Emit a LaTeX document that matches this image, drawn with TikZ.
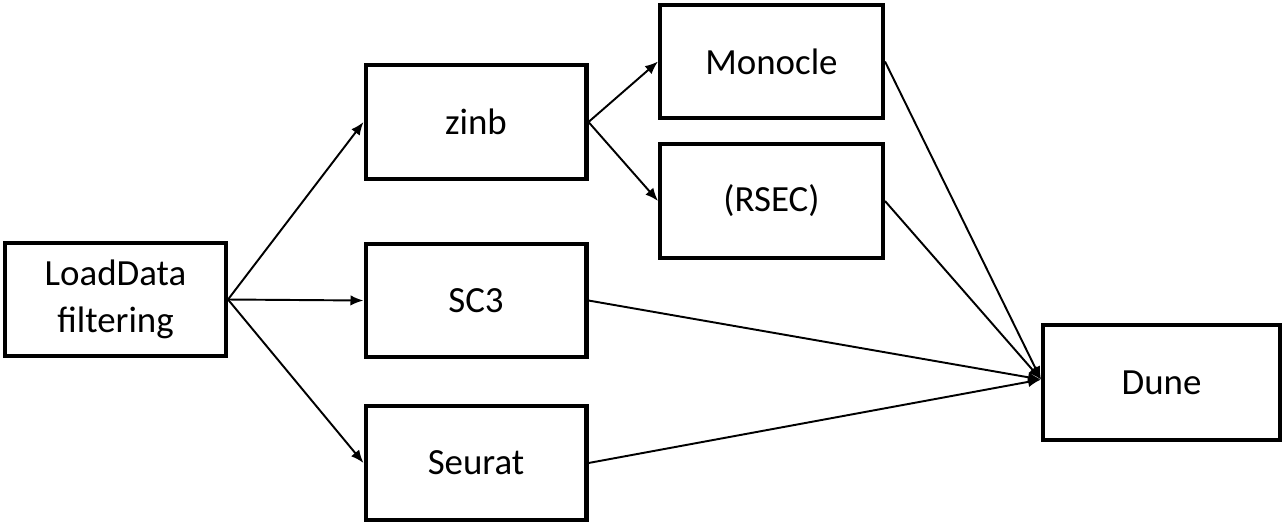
\documentclass[tikz,border=0pt]{standalone}
\usepackage{fontspec}
\setmainfont{Carlito}
\usepackage{tikz}
\usetikzlibrary{arrows.meta,positioning}

\begin{document}
\begin{tikzpicture}[x=0.02cm, y=-0.02cm,
    every node/.style={font=\fontsize{21}{27}\selectfont,align=center},
    box/.style={draw,line width=2.3pt,minimum width=4.42cm,minimum height=2.27cm,inner sep=0pt},
    flow/.style={-{Latex[length=2.6mm,width=2.1mm]},line width=1.1pt}]
    \useasboundingbox (0,0) rectangle (1285,525);
    \node[box] (load) at (115.5,299.5) {LoadData\\filtering};
    \node[box] (zinb) at (476,122) {zinb};
    \node[box] (sc3) at (476,300.5) {SC3};
    \node[box] (seurat) at (476,463) {Seurat};
    \node[box,minimum width=4.46cm] (monocle) at (771.5,61.5) {Monocle};
    \node[box,minimum width=4.46cm] (rsec) at (771.5,201) {(RSEC)};
    \node[box,minimum width=4.74cm,minimum height=2.3cm] (dune) at (1161.5,382.5) {Dune};
    \coordinate (hub) at ([yshift=0.06cm]dune.west);
    \foreach \x/\y in {load.east/zinb.west,load.east/sc3.west,load.east/seurat.west,zinb.east/monocle.west,zinb.east/rsec.west}{\draw[flow] (\x) -- (\y);}
    \foreach \x in {monocle,rsec,sc3,seurat}{\draw[flow] (\x.east) -- (hub);}
  \end{tikzpicture}
\end{document}
